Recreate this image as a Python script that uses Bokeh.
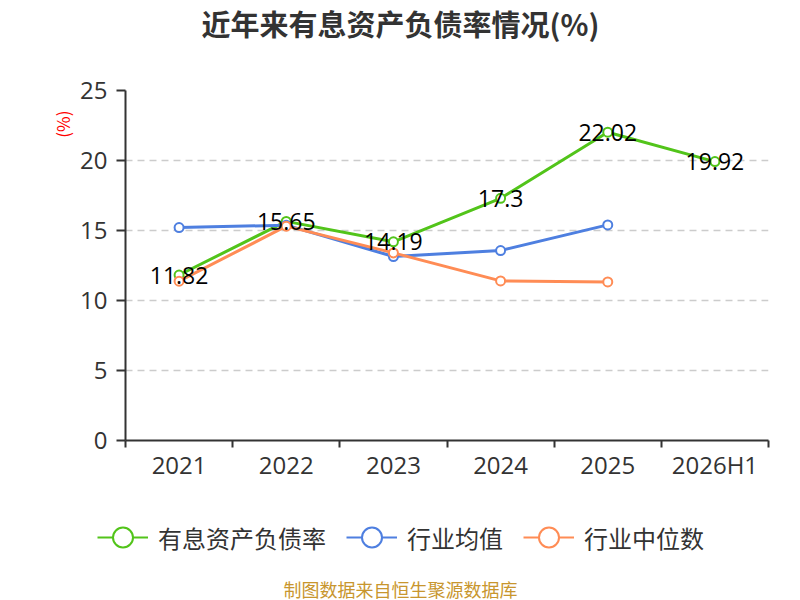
from bokeh.plotting import figure
from bokeh.layouts import column
from bokeh.models import (ColumnDataSource, FixedTicker, Legend, LegendItem, Title,
                          Label, Range1d)
from bokeh.core.properties import value
from bokeh.embed import file_html
from bokeh.resources import INLINE

years = ["2021", "2022", "2023", "2024", "2025", "2026H1"]
rate = [11.82, 15.65, 14.19, 17.3, 22.02, 19.92]
ind_mean = [15.21, 15.38, 13.14, 13.57, 15.4]
ind_median = [11.38, 15.31, 13.4, 11.4, 11.33]
y_ticks = [0, 5, 10, 15, 20, 25]
series_names = ["有息资产负债率", "行业均值", "行业中位数"]

FONT = "Noto Sans CJK SC"
NUM_FONT = "Open Sans"
GREEN = "#52c41a"
BLUE = "#4e7fe0"
ORANGE = "#ff8c55"
COLORS = [GREEN, BLUE, ORANGE]

xs = [i + 0.5 for i in range(len(years))]


def blank(height):
    f = figure(width=800, height=height, output_backend="svg",
               toolbar_location=None, x_range=Range1d(0, 800),
               y_range=Range1d(0, height), min_border=0)
    f.frame_align = False
    f.axis.visible = False
    f.grid.visible = False
    f.outline_line_color = None
    return f


# title strip
head = blank(70)
head.add_layout(Label(x=400, y=48, x_units="screen", y_units="screen",
                      text="近年来有息资产负债率情况(%)", text_align="center",
                      text_baseline="middle", text_font=FONT,
                      text_font_size="29px", text_font_style="bold",
                      text_color="#333333"))

# main chart
p = figure(width=800, height=414,
           output_backend="svg", toolbar_location=None,
           x_range=Range1d(0, len(years)), y_range=Range1d(0, 25),
           min_border_left=125, min_border_right=32, min_border_top=20,
           min_border_bottom=44)
p.outline_line_color = None

# x axis: labels at centers, ticks at category boundaries
p.xaxis.ticker = FixedTicker(ticks=xs, minor_ticks=list(range(len(years) + 1)))
p.xaxis.major_label_overrides = {x: y for x, y in zip(xs, years)}
p.xaxis.major_tick_out = 0
p.xaxis.major_tick_in = 0
p.xaxis.minor_tick_out = 7
p.xaxis.minor_tick_in = 0
p.xaxis.minor_tick_line_color = "#333333"
p.xaxis.minor_tick_line_width = 2
p.xaxis.axis_line_color = "#333333"
p.xaxis.axis_line_width = 2
p.xaxis.major_label_text_font = NUM_FONT
p.xaxis.major_label_text_font_size = "24px"
p.xaxis.major_label_text_color = "#333333"
p.xaxis.major_label_standoff = 0

p.yaxis.ticker = FixedTicker(ticks=y_ticks)
p.yaxis.minor_tick_line_color = None
p.yaxis.major_tick_out = 9
p.yaxis.major_tick_in = 0
p.yaxis.major_tick_line_color = "#333333"
p.yaxis.major_tick_line_width = 2
p.yaxis.axis_line_color = "#333333"
p.yaxis.axis_line_width = 2
p.yaxis.major_label_text_font = NUM_FONT
p.yaxis.major_label_text_font_size = "24px"
p.yaxis.major_label_text_color = "#333333"
p.yaxis.major_label_standoff = 9

p.xgrid.grid_line_color = None
p.ygrid.grid_line_color = "#cccccc"
p.ygrid.grid_line_dash = "7 5"
p.ygrid.grid_line_width = 1.5

p.add_layout(Title(text="(%)", align="right", offset=20, text_color="red",
                   text_font=FONT, text_font_size="17px",
                   text_font_style="normal", standoff=6), "left")

src_rate = ColumnDataSource(dict(x=xs, y=rate, lbl=[str(v) for v in rate]))
src_mean = ColumnDataSource(dict(x=xs[:len(ind_mean)], y=ind_mean))
src_med = ColumnDataSource(dict(x=xs[:len(ind_median)], y=ind_median))

for src, color in zip([src_rate, src_mean, src_med], COLORS):
    p.line("x", "y", source=src, line_color=color, line_width=3)
    p.scatter("x", "y", source=src, size=9, fill_color="white",
              line_color=color, line_width=2)

p.text("x", "y", text="lbl", source=src_rate, text_align="center",
       text_baseline="middle", text_font_size="23px", text_color="black",
       text_font=value(NUM_FONT))

# bottom strip: legend and source note
foot = blank(116)

items = []
for name, color in zip(series_names, COLORS):
    # legend-only glyphs, kept out of view
    ln = foot.line(x=[-1000, -999], y=[-1000, -999], line_color=color,
                   line_width=2)
    sc = foot.scatter(x=[-1000], y=[-1000], fill_color="white",
                      line_color=color, line_width=2)
    items.append(LegendItem(label=name, renderers=[ln, sc]))

legend = Legend(items=items, orientation="horizontal", location=(97, 38),
                label_text_font=FONT, label_text_font_size="24px",
                label_text_color="#333333", glyph_width=51, glyph_height=50,
                spacing=20, border_line_color=None, background_fill_alpha=0,
                label_standoff=10, padding=0, margin=0)
foot.add_layout(legend, "center")

foot.add_layout(Label(x=400, y=12, x_units="screen", y_units="screen",
                      text="制图数据来自恒生聚源数据库", text_align="center",
                      text_baseline="middle", text_font=FONT,
                      text_font_size="18px", text_color="#c8962e"))

layout = column(head, p, foot)
open("out.html", "w").write(file_html(layout, INLINE))
